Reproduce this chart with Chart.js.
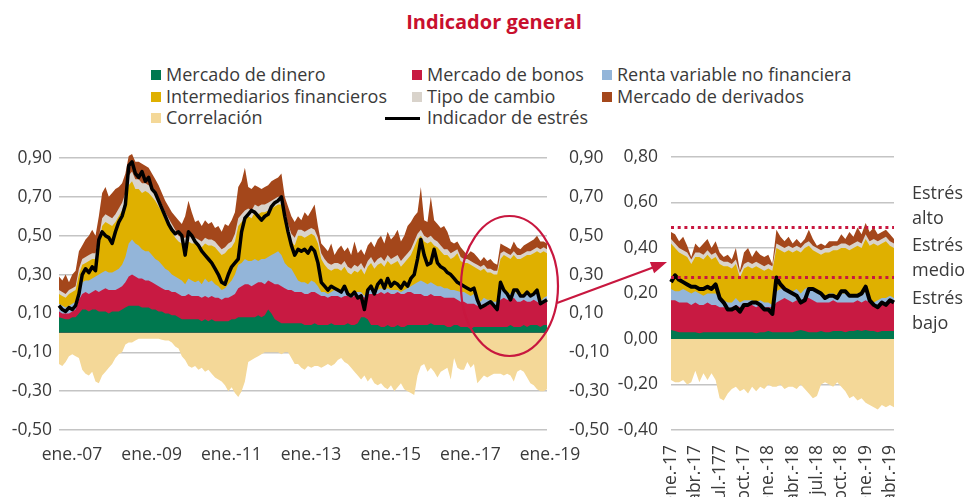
<!DOCTYPE html>
<html><head><meta charset="utf-8">
<script src="https://cdn.jsdelivr.net/npm/chart.js@4.4.1/dist/chart.umd.min.js"></script>
<style>
html,body{margin:0;padding:0;background:#fff;}
body{width:968px;height:497px;position:relative;overflow:hidden;font-family:'Open Sans',sans-serif;color:#3a3a3a;}
canvas{position:absolute;top:0;}
#c1{left:0;}
#c2{left:600px;}
.t{position:absolute;white-space:nowrap;font-size:18px;line-height:22px;}
.sq{position:absolute;width:10px;height:10px;}
#title{position:absolute;left:0;width:988px;text-align:center;top:8px;font-size:20px;font-weight:700;color:#C8102E;}
svg{position:absolute;left:0;top:0;pointer-events:none;}
</style></head>
<body>
<div id="title">Indicador general</div>
<div id="legend"></div>
<canvas id="c1" width="610" height="497"></canvas>
<canvas id="c2" width="368" height="497"></canvas>
<div class="t" style="left:912px;top:181px">Estrés</div>
<div class="t" style="left:912px;top:206px">alto</div>
<div class="t" style="left:912px;top:233px">Estrés</div>
<div class="t" style="left:912px;top:258px">medio</div>
<div class="t" style="left:912px;top:286px">Estrés</div>
<div class="t" style="left:912px;top:311px">bajo</div>
<svg width="968" height="497">
  <ellipse cx="509.5" cy="286" rx="48.5" ry="70" fill="none" stroke="#C8173F" stroke-width="2.2"/>
  <line x1="557" y1="303" x2="653" y2="267.5" stroke="#C8173F" stroke-width="2.2"/>
  <polygon points="667,262 654.1,273.2 649.9,262" fill="#C8173F"/>
</svg>
<script>
// ---------- Panel izquierdo: datos mensuales ene.-07 a abr.-19 ----------
// Cada serie de área = borde superior de su banda apilada.
const dinero = [
 .08,.075,.07,.07,.08,.08,.10,.12,.12,.11,.12,.12,
 .11,.11,.11,.10,.11,.11,.11,.12,.13,.14,.14,.14,
 .14,.13,.13,.13,.12,.12,.11,.11,.10,.10,.09,.09,
 .08,.07,.07,.07,.07,.07,.07,.06,.07,.06,.07,.06,
 .06,.06,.06,.06,.07,.07,.08,.08,.08,.08,.08,.08,
 .09,.08,.09,.12,.10,.07,.06,.05,.05,.05,.05,.05,
 .05,.05,.04,.04,.04,.05,.04,.04,.04,.04,.05,.04,
 .04,.04,.04,.05,.04,.04,.05,.08,.08,.07,.04,.04,
 .04,.03,.03,.04,.03,.03,.04,.03,.03,.04,.04,.04,
 .04,.04,.04,.04,.05,.04,.04,.04,.04,.03,.03,.04,
 .04,.03,.03,.03,.02,.03,.03,.03,.03,.03,.03,.03,
 .03,.03,.03,.03,.04,.03,.03,.03,.04,.03,.04,.04,
 .04,.03,.04,.04];
const bonos = [
 .11,.10,.10,.10,.11,.12,.17,.20,.21,.20,.21,.22,
 .21,.22,.23,.22,.22,.22,.23,.24,.26,.29,.30,.29,
 .28,.28,.27,.27,.26,.25,.24,.23,.22,.22,.21,.21,
 .20,.19,.19,.20,.19,.19,.19,.18,.19,.18,.19,.18,
 .18,.17,.18,.18,.19,.20,.23,.24,.25,.25,.24,.25,
 .26,.26,.25,.27,.26,.25,.25,.24,.23,.22,.22,.21,
 .21,.21,.20,.20,.21,.21,.20,.19,.19,.18,.19,.19,
 .19,.18,.19,.19,.18,.19,.19,.20,.18,.20,.20,.20,
 .20,.21,.20,.21,.20,.20,.21,.20,.20,.21,.21,.20,
 .20,.20,.19,.19,.20,.19,.19,.19,.18,.18,.18,.18,
 .17,.16,.16,.15,.15,.15,.14,.14,.15,.14,.15,.14,
 .14,.17,.18,.17,.17,.18,.16,.16,.17,.16,.16,.17,
 .16,.15,.16,.16];
const renta = [
 .15,.14,.13,.14,.15,.16,.22,.26,.27,.27,.28,.29,
 .30,.31,.32,.31,.31,.32,.33,.35,.39,.46,.48,.46,
 .45,.43,.42,.42,.40,.38,.37,.35,.33,.32,.30,.29,
 .28,.27,.25,.28,.27,.26,.27,.25,.28,.26,.27,.25,
 .24,.22,.23,.25,.27,.30,.35,.36,.38,.37,.37,.38,
 .37,.38,.38,.39,.40,.41,.42,.40,.36,.34,.33,.30,
 .27,.26,.26,.25,.27,.26,.24,.21,.21,.20,.21,.22,
 .21,.21,.22,.21,.20,.21,.21,.21,.19,.22,.22,.21,
 .22,.23,.22,.23,.22,.22,.22,.21,.22,.23,.24,.25,
 .26,.27,.26,.25,.26,.25,.24,.24,.23,.23,.22,.22,
 .215,.21,.21,.20,.19,.20,.18,.16,.18,.17,.17,.16,
 .16,.22,.22,.21,.20,.22,.20,.19,.20,.20,.19,.20,
 .20,.16,.18,.19];
const intermediarios = [
 .20,.19,.18,.20,.21,.22,.30,.35,.36,.37,.38,.38,
 .45,.55,.57,.56,.55,.57,.60,.63,.68,.76,.78,.74,
 .74,.72,.73,.72,.70,.68,.65,.62,.58,.55,.52,.49,
 .47,.46,.46,.47,.46,.46,.45,.44,.46,.45,.45,.44,
 .42,.40,.41,.43,.44,.47,.55,.57,.59,.60,.59,.62,
 .61,.62,.62,.63,.64,.65,.66,.66,.58,.52,.47,.45,
 .50,.50,.49,.50,.51,.50,.46,.38,.35,.33,.32,.33,
 .33,.32,.34,.31,.30,.32,.31,.33,.30,.34,.36,.33,
 .35,.36,.34,.37,.35,.36,.37,.34,.36,.38,.40,.44,
 .48,.50,.47,.46,.47,.45,.44,.42,.40,.40,.38,.39,
 .41,.37,.36,.36,.35,.34,.33,.32,.33,.31,.31,.30,
 .30,.38,.40,.39,.38,.40,.38,.38,.39,.40,.40,.41,
 .42,.41,.42,.41];
const tipoCambio = [
 .22,.21,.20,.22,.23,.24,.33,.38,.39,.40,.41,.41,
 .49,.59,.61,.60,.59,.61,.64,.67,.72,.81,.83,.79,
 .79,.77,.77,.76,.74,.72,.69,.66,.62,.59,.56,.53,
 .50,.49,.49,.50,.49,.49,.48,.47,.49,.48,.48,.47,
 .45,.43,.44,.46,.47,.51,.59,.61,.63,.64,.63,.66,
 .65,.66,.66,.67,.68,.69,.70,.70,.62,.56,.51,.49,
 .53,.53,.52,.53,.54,.53,.49,.41,.38,.36,.35,.36,
 .36,.35,.37,.34,.33,.35,.34,.36,.33,.37,.39,.36,
 .38,.39,.37,.40,.38,.39,.40,.37,.39,.41,.43,.47,
 .51,.53,.50,.49,.50,.48,.47,.45,.43,.43,.41,.42,
 .43,.39,.38,.38,.37,.36,.35,.34,.35,.33,.33,.32,
 .32,.41,.42,.41,.40,.42,.40,.40,.41,.42,.42,.43,
 .44,.43,.44,.43];
const derivados = [
 .29,.27,.30,.26,.30,.32,.42,.45,.48,.50,.53,.50,
 .60,.72,.75,.70,.72,.74,.75,.77,.82,.91,.92,.88,
 .88,.87,.86,.85,.82,.79,.76,.72,.68,.65,.62,.60,
 .58,.56,.60,.68,.62,.57,.58,.55,.58,.56,.57,.54,
 .55,.52,.56,.55,.58,.62,.75,.78,.85,.75,.74,.76,
 .75,.74,.75,.76,.78,.79,.80,.82,.70,.65,.60,.57,
 .60,.58,.62,.60,.63,.66,.55,.46,.44,.42,.46,.40,
 .43,.45,.42,.44,.40,.47,.41,.43,.40,.45,.47,.44,
 .48,.50,.46,.52,.48,.50,.53,.47,.50,.55,.57,.60,
 .62,.75,.58,.57,.70,.58,.56,.54,.55,.52,.47,.46,
 .47,.44,.42,.40,.42,.41,.39,.37,.39,.37,.38,.36,
 .35,.46,.45,.44,.43,.47,.44,.43,.45,.46,.47,.48,
 .50,.47,.47,.46];
const correlacion = [
 -.16,-.17,-.15,-.12,-.11,-.12,-.13,-.19,-.21,-.22,-.20,-.25,
 -.26,-.22,-.20,-.18,-.16,-.13,-.11,-.10,-.06,-.05,-.05,-.04,
 -.03,-.03,-.03,-.03,-.03,-.03,-.03,-.035,-.04,-.04,-.05,-.07,
 -.08,-.12,-.14,-.17,-.18,-.17,-.19,-.18,-.20,-.19,-.21,-.23,
 -.24,-.25,-.27,-.30,-.28,-.31,-.33,-.30,-.25,-.15,-.14,-.13,
 -.12,-.11,-.10,-.10,-.10,-.10,-.10,-.11,-.10,-.10,-.13,-.16,
 -.16,-.18,-.19,-.17,-.18,-.17,-.17,-.18,-.17,-.16,-.17,-.16,
 -.14,-.13,-.15,-.16,-.18,-.20,-.22,-.24,-.22,-.25,-.23,-.26,
 -.27,-.26,-.28,-.29,-.27,-.30,-.28,-.26,-.29,-.30,-.31,-.32,
 -.22,-.17,-.16,-.20,-.18,-.20,-.23,-.20,-.19,-.18,-.24,-.13,
 -.18,-.19,-.19,-.15,-.18,-.16,-.26,-.24,-.22,-.23,-.22,-.21,
 -.21,-.21,-.22,-.21,-.22,-.25,-.20,-.19,-.20,-.23,-.26,-.27,
 -.29,-.30,-.30,-.29];
const indicador = [
 .14,.12,.11,.13,.12,.14,.20,.30,.33,.31,.34,.32,
 .48,.52,.50,.49,.46,.52,.57,.60,.66,.86,.88,.82,
 .80,.83,.78,.80,.74,.72,.68,.64,.60,.56,.53,.51,
 .52,.50,.40,.52,.50,.47,.45,.42,.40,.38,.36,.33,
 .30,.26,.25,.30,.34,.36,.38,.52,.59,.61,.63,.62,
 .60,.58,.60,.61,.65,.67,.68,.70,.60,.52,.45,.40,
 .43,.42,.43,.41,.44,.42,.36,.26,.24,.22,.24,.23,
 .22,.21,.24,.20,.19,.21,.18,.19,.12,.22,.24,.20,
 .25,.27,.23,.28,.24,.26,.25,.23,.26,.24,.28,.30,
 .38,.48,.40,.35,.36,.43,.36,.34,.33,.31,.30,.28,
 .26,.25,.24,.23,.22,.23,.17,.13,.14,.15,.16,.14,
 .12,.26,.22,.20,.17,.22,.22,.19,.19,.21,.19,.20,
 .22,.15,.16,.17];
const ticksIzq = [-0.5,-0.3,-0.1,0.1,0.3,0.5,0.7,0.9];

// ---------- Panel derecho: datos quincenales ene.-17 a abr.-19 ----------
const dineroZ = [
 .040,.035,.030,.030,.030,.030,.030,.025,
 .030,.030,.030,.030,.030,.030,.030,.030,
 .030,.030,.030,.030,.030,.025,.030,.030,
 .035,.030,.030,.030,.030,.030,.030,.035,
 .040,.035,.030,.030,.030,.035,.030,.030,
 .035,.035,.035,.030,.035,.035,.040,.035,
 .040,.035,.035,.030,.035,.035,.035,.035];
const bonosZ = [
 .17,.17,.16,.16,.16,.15,.16,.15,
 .15,.16,.15,.15,.14,.14,.13,.14,
 .15,.14,.14,.15,.15,.14,.15,.14,
 .14,.14,.16,.17,.18,.17,.16,.17,
 .16,.19,.18,.17,.16,.16,.16,.16,
 .17,.16,.16,.16,.16,.16,.17,.16,
 .17,.16,.15,.15,.16,.16,.16,.16];
const rentaZ = [
 .22,.21,.21,.22,.21,.20,.21,.20,
 .19,.20,.20,.20,.18,.17,.16,.16,
 .18,.16,.17,.17,.17,.16,.17,.16,
 .16,.15,.21,.22,.23,.22,.21,.22,
 .20,.22,.23,.22,.20,.20,.19,.20,
 .20,.19,.20,.20,.19,.19,.20,.19,
 .21,.17,.16,.17,.18,.18,.19,.18];
const intermediariosZ = [
 .42,.40,.38,.37,.36,.33,.36,.36,
 .35,.37,.35,.36,.33,.32,.32,.31,
 .33,.27,.31,.32,.31,.32,.31,.30,
 .31,.30,.40,.39,.38,.39,.38,.39,
 .38,.40,.41,.39,.38,.37,.38,.38,
 .39,.39,.40,.40,.39,.40,.41,.40,
 .44,.41,.42,.41,.42,.43,.41,.40];
const tipoCambioZ = [
 .44,.42,.40,.39,.38,.35,.38,.38,
 .37,.39,.37,.38,.35,.34,.34,.33,
 .35,.29,.33,.34,.33,.34,.33,.32,
 .33,.32,.42,.41,.40,.41,.40,.41,
 .40,.42,.43,.41,.40,.39,.40,.40,
 .41,.41,.42,.42,.41,.42,.43,.42,
 .46,.43,.44,.43,.44,.45,.43,.42];
const derivadosZ = [
 .47,.46,.43,.45,.41,.36,.42,.40,
 .42,.44,.40,.43,.38,.36,.37,.35,
 .40,.30,.38,.40,.36,.39,.37,.36,
 .37,.33,.48,.45,.43,.45,.42,.44,
 .42,.44,.48,.44,.41,.42,.41,.43,
 .43,.43,.46,.44,.47,.45,.49,.46,
 .51,.47,.49,.46,.47,.48,.46,.44];
const correlacionZ = [
 -.18,-.19,-.19,-.18,-.20,-.19,-.14,-.19,
 -.15,-.18,-.15,-.18,-.26,-.27,-.24,-.22,
 -.21,-.23,-.22,-.24,-.21,-.23,-.21,-.22,
 -.20,-.21,-.21,-.20,-.22,-.21,-.21,-.22,
 -.20,-.22,-.24,-.26,-.25,-.20,-.19,-.20,
 -.21,-.19,-.21,-.23,-.26,-.25,-.27,-.26,
 -.28,-.29,-.30,-.31,-.29,-.30,-.29,-.30];
const indicadorZ = [
 .25,.28,.26,.25,.24,.23,.23,.22,
 .22,.23,.22,.24,.18,.16,.13,.13,
 .14,.12,.15,.15,.16,.16,.15,.13,
 .13,.11,.27,.24,.22,.21,.20,.19,
 .16,.17,.22,.22,.21,.20,.18,.19,
 .19,.18,.21,.21,.19,.19,.19,.20,
 .23,.17,.15,.14,.16,.15,.17,.16];
const trimestres = ['ene.-17','abr.-17','jul.-177','oct.-17','ene.-18','abr.-18','jul.-18','oct.-18','ene.-19','abr.-19'];
const umbrales = [0.49, 0.27];
const ticksDer = [-0.4,-0.2,0,0.2,0.4,0.6,0.8];

// ---------- Categorías ----------
const abrev = ['ene.','feb.','mar.','abr.','may.','jun.','jul.','ago.','sep.','oct.','nov.','dic.'];
const meses = [];
for (let i = 0; i < dinero.length; i++) {
  const y = 2007 + Math.floor(i / 12);
  meses.push(abrev[i % 12] + '-' + String(y).slice(2));
}
const quincenas = [];
for (let i = 0; i < dineroZ.length; i++) {
  const m = Math.floor(i / 2), y = 2017 + Math.floor(m / 12);
  quincenas.push(abrev[m % 12] + '-' + String(y).slice(2) + (i % 2 ? ' (2)' : ' (1)'));
}

// ---------- Estilos ----------
const COL = {
  dinero:'#00784F', bonos:'#C81A42', renta:'#93B5D9', inter:'#DFB000',
  tipo:'#D9D3CB', deriv:'#A4471B', corr:'#F4D898', ind:'#000000', red:'#C8173F'
};
const series = [
  {k:'dinero', label:'Mercado de dinero'},
  {k:'bonos', label:'Mercado de bonos'},
  {k:'renta', label:'Renta variable no financiera'},
  {k:'inter', label:'Intermediarios financieros'},
  {k:'tipo', label:'Tipo de cambio'},
  {k:'deriv', label:'Mercado de derivados'},
  {k:'corr', label:'Correlación'}
];

// ---------- Leyenda HTML ----------
(function(){
  const L = document.getElementById('legend');
  const colX = [151, 412, 602], rowY = [75, 96.5, 118];
  const items = [
    ['dinero',0,0],['bonos',1,0],['renta',2,0],
    ['inter',0,1],['tipo',1,1],['deriv',2,1],
    ['corr',0,2],['ind',1,2]
  ];
  items.forEach(([k,c,r]) => {
    const s = series.find(o => o.k === k);
    const lab = s ? s.label : 'Indicador de estrés';
    if (k === 'ind') {
      const ln = document.createElement('div');
      ln.style.cssText = `position:absolute;left:${colX[c]-27}px;top:${rowY[r]-1.5}px;width:35px;height:3px;background:#000`;
      L.appendChild(ln);
    } else {
      const sq = document.createElement('div');
      sq.className = 'sq';
      sq.style.cssText = `left:${colX[c]}px;top:${rowY[r]-5}px;background:${COL[k]}`;
      L.appendChild(sq);
    }
    const t = document.createElement('div');
    t.className = 't';
    t.style.left = (colX[c] + 15) + 'px';
    t.style.top = (rowY[r] - 12) + 'px';
    t.textContent = lab;
    L.appendChild(t);
  });
})();

Chart.defaults.font.family = "'Open Sans', sans-serif";
Chart.defaults.font.size = 17.5;
Chart.defaults.color = '#3a3a3a';

const fmt = v => (Math.round(v * 100) / 100).toFixed(2).replace('.', ',');

function areaDS(label, data, color, yID) {
  return { label, data, backgroundColor: color, borderColor: color, borderWidth: 0,
           pointRadius: 0, fill: 'origin', tension: 0, yAxisID: yID, clip: false };
}
function buildDatasets(d, yID, lw) {
  // painter's order: highest index drawn first, so the top band goes last in the list
  return [
    { label:'Indicador de estrés', data:d.ind, borderColor:'#000', borderWidth:lw, pointRadius:0,
      fill:false, tension:0, yAxisID:yID, borderJoinStyle:'round', clip:false },
    areaDS('Mercado de dinero', d.dinero, COL.dinero, yID),
    areaDS('Mercado de bonos', d.bonos, COL.bonos, yID),
    areaDS('Renta variable no financiera', d.renta, COL.renta, yID),
    areaDS('Intermediarios financieros', d.inter, COL.inter, yID),
    areaDS('Tipo de cambio', d.tipo, COL.tipo, yID),
    areaDS('Mercado de derivados', d.deriv, COL.deriv, yID),
    areaDS('Correlación', d.corr, COL.corr, yID)
  ];
}

const gridOpts = { color:'#C4C4C4', lineWidth:1.5, drawTicks:false };

// ---------- Gráfico izquierdo ----------
new Chart(document.getElementById('c1'), {
  type: 'line',
  data: {
    labels: meses,
    datasets: buildDatasets({dinero, bonos, renta, inter:intermediarios, tipo:tipoCambio,
                             deriv:derivados, corr:correlacion, ind:indicador}, 'y', 3.5)
  },
  options: {
    responsive:false, animation:false, events:[],
    layout:{ padding:{ top:148.25, left:0, right:0, bottom:0 } },
    plugins:{ legend:{display:false}, tooltip:{enabled:false} },
    scales:{
      x:{ type:'category', offset:false, grid:{display:false}, border:{display:false},
          ticks:{ autoSkip:false, maxRotation:0, minRotation:0, labelOffset:13, padding:7,
                  callback:(v,i)=> i % 24 === 0 ? meses[i] : '' },
          afterFit:s=>{ s.height = 67; } },
      y:{ position:'left', min:-0.5, max:0.95, grid:gridOpts, border:{display:false},
          afterBuildTicks:s=>{ s.ticks = ticksIzq.map(v=>({value:v})); },
          ticks:{ padding:7, callback:v=>fmt(v) },
          afterFit:s=>{ s.width = 59; } },
      y2:{ position:'right', min:-0.5, max:0.95, grid:{display:false}, border:{display:false},
          afterBuildTicks:s=>{ s.ticks = ticksIzq.map(v=>({value:v})); },
          ticks:{ padding:14, callback:v=>fmt(v) },
          afterFit:s=>{ s.width = 63; } }
    }
  }
});

// ---------- Gráfico derecho ----------
const umbralPlugin = {
  id:'umbrales',
  afterDatasetsDraw(chart){
    const {ctx, chartArea:a, scales:{y}} = chart;
    ctx.save();
    ctx.strokeStyle = COL.red; ctx.lineWidth = 3; ctx.setLineDash([3,3.7]);
    umbrales.forEach(u => {
      const py = y.getPixelForValue(u);
      ctx.beginPath(); ctx.moveTo(a.left, py); ctx.lineTo(a.right, py); ctx.stroke();
    });
    ctx.restore();
  }
};
new Chart(document.getElementById('c2'), {
  type: 'line',
  data: {
    labels: quincenas,
    datasets: buildDatasets({dinero:dineroZ, bonos:bonosZ, renta:rentaZ, inter:intermediariosZ,
                             tipo:tipoCambioZ, deriv:derivadosZ, corr:correlacionZ, ind:indicadorZ}, 'y', 4)
  },
  options: {
    responsive:false, animation:false, events:[],
    layout:{ padding:{ top:157, left:0, right:74, bottom:0 } },
    plugins:{ legend:{display:false}, tooltip:{enabled:false} },
    scales:{
      x:{ type:'category', offset:false, grid:{display:false}, border:{display:false},
          ticks:{ autoSkip:false, maxRotation:90, minRotation:90, padding:7,
                  callback:(v,i)=> i % 6 === 0 ? trimestres[i/6] : '' },
          afterFit:s=>{ s.height = 67; } },
      y:{ position:'left', min:-0.4, max:0.8, grid:gridOpts, border:{display:false},
          afterBuildTicks:s=>{ s.ticks = ticksDer.map(v=>({value:v})); },
          ticks:{ padding:13, callback:v=>fmt(v) },
          afterFit:s=>{ s.width = 71; } }
    }
  },
  plugins:[umbralPlugin]
});
</script>
</body></html>
